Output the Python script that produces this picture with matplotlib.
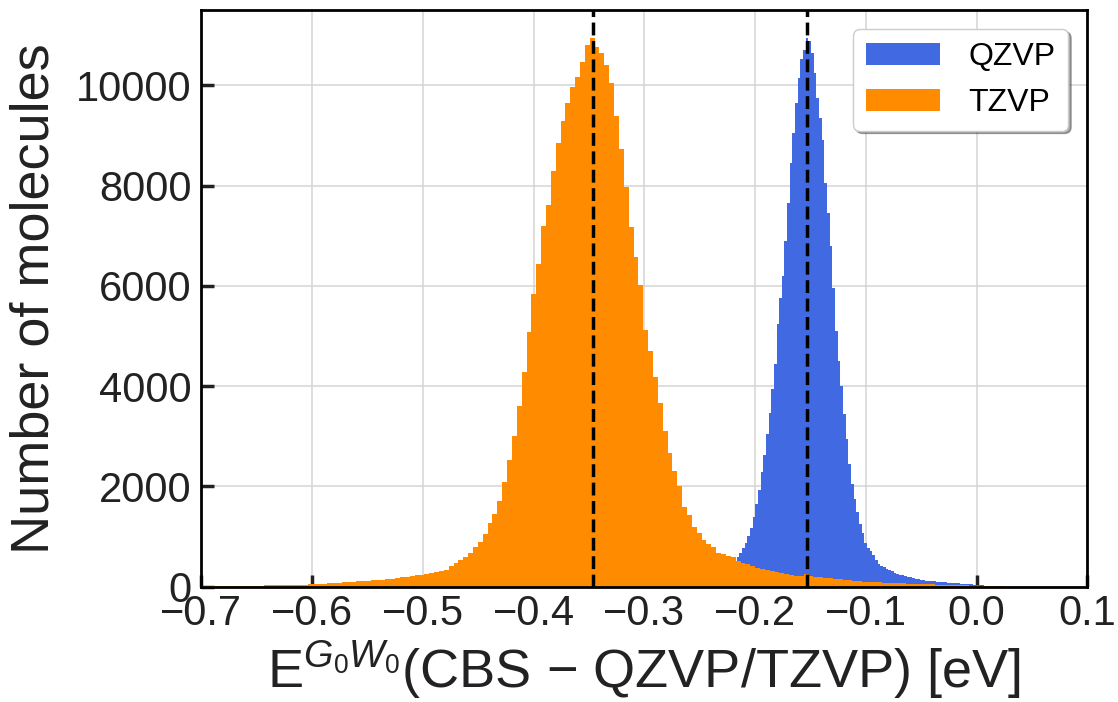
import numpy as np
import matplotlib
matplotlib.use("Agg")
import matplotlib.pyplot as plt

plt.rcParams["font.family"] = ["Liberation Sans", "DejaVu Sans"]
plt.rcParams["mathtext.fontset"] = "custom"
plt.rcParams["mathtext.rm"] = "Liberation Sans"
plt.rcParams["mathtext.it"] = "Liberation Sans:italic"

# histogram counts
qzvp_start = -0.2311
qzvp_width = 0.0024
qzvp_counts = [250, 280, 320, 370, 430, 520, 600, 680, 780, 880,
               1010, 1180, 1400, 1650, 1930, 2280, 2630, 3050, 3470, 3950,
               4450, 5230, 5750, 6200, 6900, 7650, 8450, 9050, 9650, 10150,
               10520, 10700, 10950, 10880, 10650, 10250, 9750, 9350, 8900, 8050,
               7450, 6800, 5950, 5100, 4500, 4000, 3450, 2950, 2450, 2050,
               1750, 1500, 1250, 1080, 880, 780, 710, 630, 540, 460,
               420, 390, 360, 340, 310, 280, 255, 240, 225, 210,
               195, 185, 175, 160, 150, 140, 130, 122, 115, 110,
               105, 100, 95, 90, 85, 82, 80, 75, 70, 65,
               60, 56, 52, 50, 46, 42, 38, 30, 25, 20, 15, 10, 6]

tzvp_start = -0.7005
tzvp_width = 0.00439
tzvp_counts = [12, 13, 14, 15, 16, 17, 18, 19, 20, 21,
               22, 23, 24, 26, 28, 30, 32, 34, 36, 38,
               40, 42, 45, 50, 55, 60, 66, 72, 80, 85,
               92, 100, 105, 110, 120, 128, 135, 140, 150, 160,
               175, 190, 200, 215, 225, 235, 245, 270, 290, 313,
               334, 420, 470, 527, 598, 669, 790, 897, 1046, 1267,
               1452, 1708, 2092, 2534, 3010, 3608, 4277, 5074, 5829, 6441,
               7188, 7608, 8291, 8839, 9281, 9636, 9957, 10163, 10455, 10811,
               10932,
               10768, 10633, 10412, 10042, 9394, 8718, 7978, 7181, 6583, 6014,
               5127, 4707, 4187, 3660, 3100, 2667, 2300, 2000, 1580, 1427,
               1200, 1067, 933, 860, 800, 667, 650, 615, 593, 513,
               480, 447, 413, 380, 360, 340, 310, 295, 270, 250,
               230, 215, 205, 255, 210, 200, 190, 175, 165, 155,
               145, 135, 125, 115, 105, 100, 95, 90, 87, 84,
               80, 76, 72, 68, 64, 60, 56, 52, 48, 45,
               42, 40, 37, 34, 31, 28, 25, 22, 19, 16,
               13, 10, 8, 6, 4, 3]

mean_lines = [-0.3466, -0.1534]

x_ticks = [-0.7, -0.6, -0.5, -0.4, -0.3, -0.2, -0.1, 0.0, 0.1]
y_ticks = [0, 2000, 4000, 6000, 8000, 10000]


def edges(start, width, n):
    return start + width * np.arange(n + 1)


fig = plt.figure(figsize=(11.18, 7.02), dpi=100)
ax = fig.add_axes([0.18, 0.1642, 0.7927, 0.8216])

q_edges = edges(qzvp_start, qzvp_width, len(qzvp_counts))
t_edges = edges(tzvp_start, tzvp_width, len(tzvp_counts))

ax.hist(q_edges[:-1] + qzvp_width / 2, bins=q_edges, weights=qzvp_counts,
        histtype="stepfilled", color="#4169E1", label="QZVP")
ax.hist(t_edges[:-1] + tzvp_width / 2, bins=t_edges, weights=tzvp_counts,
        histtype="stepfilled", color="#FF8C00", label="TZVP")

for m in mean_lines:
    ax.axvline(m, color="black", linestyle="--", linewidth=2.5)

ax.set_xlim(-0.7, 0.1)
ax.set_ylim(0, 11500)
ax.set_xticks(x_ticks)
ax.set_yticks(y_ticks)
ax.set_axisbelow(True)
ax.grid(True, color="#d4d4d4", linewidth=1.1)

ax.tick_params(axis="both", direction="in", length=9, width=2.5,
               labelsize=30, color="#222222", labelcolor="#222222")
ax.tick_params(axis="x", pad=5)
ax.tick_params(axis="y", pad=7)
for s in ax.spines.values():
    s.set_linewidth(2)
    s.set_color("black")

ax.set_xlabel(r"E$^{G_0W_0}$(CBS $-$ QZVP/TZVP) [eV]", fontsize=39,
              color="#222222", labelpad=4)
ax.set_ylabel("Number of molecules", fontsize=39, color="#222222", labelpad=12)

leg = ax.legend(loc="upper right", fontsize=23, shadow=True, fancybox=True,
                handlelength=2.3, handletextpad=0.9, borderaxespad=0.6)
leg.get_frame().set_edgecolor("#cccccc")

fig.savefig("out.png", dpi=100)
